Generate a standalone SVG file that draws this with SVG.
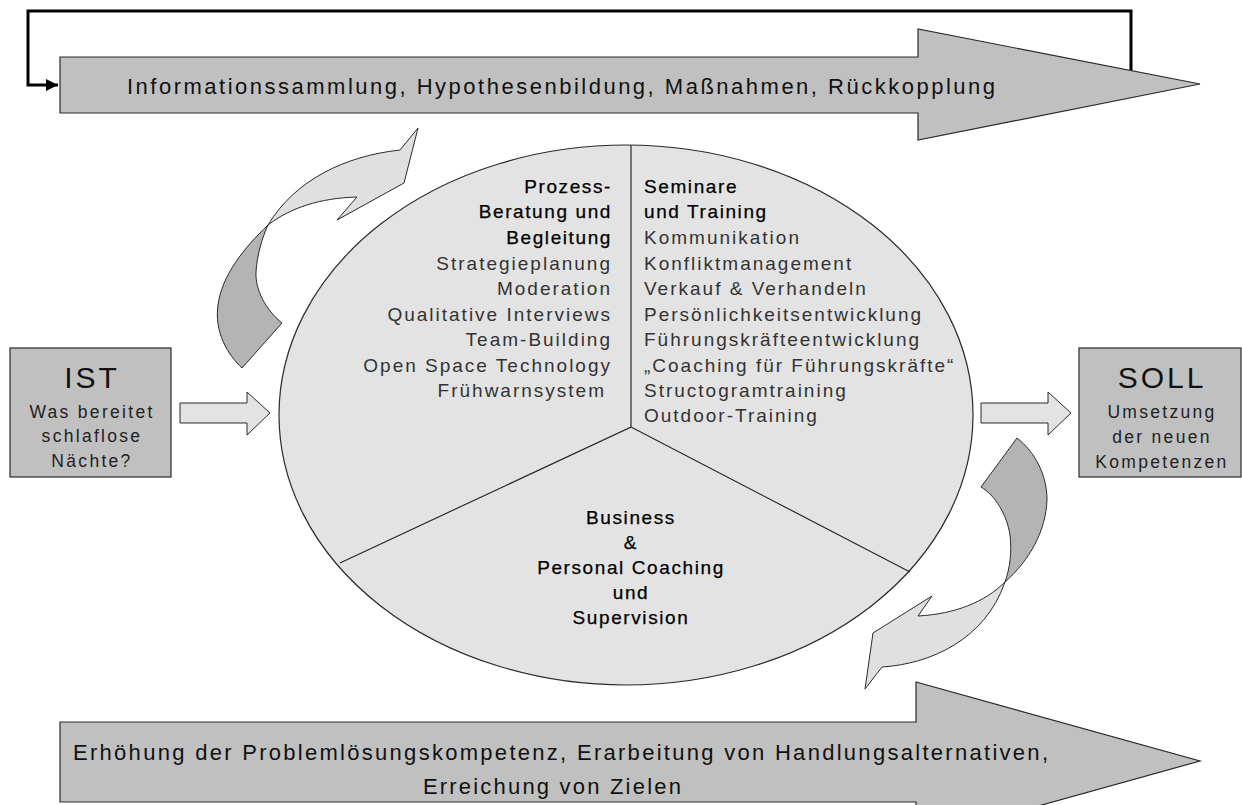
<svg xmlns="http://www.w3.org/2000/svg" width="1242" height="805" viewBox="0 0 1242 805">
<style>
.bg{fill:#ffffff}
.band{fill:#c0c0c0;stroke:#2a2a2a;stroke-width:1.2}
.box{fill:#c0c0c0;stroke:#2a2a2a;stroke-width:1.2}
.circ{fill:#e3e3e3;stroke:#2a2a2a;stroke-width:1.2}
.div{fill:none;stroke:#2a2a2a;stroke-width:1.2}
.small{fill:#e3e3e3;stroke:#2a2a2a;stroke-width:1}
.lt{fill:#e0e0e0;stroke:#2a2a2a;stroke-width:1}
.dk{fill:#b4b4b4;stroke:#2a2a2a;stroke-width:1}
.fb{fill:none;stroke:#000;stroke-width:3}
text{font-family:"Liberation Sans",Arial,sans-serif}
.bt{font-size:22px;fill:#111}
.reg{font-size:19px;fill:#333;letter-spacing:2px}
.ttl{font-size:19px;fill:#000;letter-spacing:1.6px;stroke:#000;stroke-width:0.25}
.big{font-size:30px;fill:#111;letter-spacing:3px}
.sub{font-size:17.5px;fill:#222;letter-spacing:2.3px}
</style>
<defs>
<marker id="ah" viewBox="0 0 10 10" refX="10" refY="5" markerWidth="6" markerHeight="4" orient="auto" markerUnits="strokeWidth">
<path d="M0,0 L10,5 L0,10 Z" fill="#000"/>
</marker>
</defs>
<rect class="bg" x="0" y="0" width="1242" height="805"/>

<g id="connectors">
<path class="fb" d="M1131,72 V11 H28 V85 H58" marker-end="url(#ah)"/>
<path class="small" d="M180,403 H247 V392 L270,413 L247,435 V423 H180 Z"/>
<path class="small" d="M981,403 H1048 V392 L1071,413 L1048,435 V423 H981 Z"/>
<g id="curved-arrow-top">
<path class="dk" d="M268,225 C244,248 222,275 218,305 C214,332 228,355 242,368 L282,323 C266,310 255,290 256,272 C257,255 262,238 268,225 Z"/>
<path class="lt" d="M268,225 C295,180 345,156 400,150 L418,128 L404,183 L337,220 L357,197 C320,198 290,208 268,225 Z"/>
</g>
<g id="curved-arrow-bottom">
<path class="dk" d="M1005,582 C1030,560 1046,530 1047,500 C1047,475 1035,452 1017,438 L981,487 C995,495 1007,515 1010,535 C1012,552 1010,568 1005,582 Z"/>
<path class="lt" d="M1005,582 C985,602 955,614 918,616 L932,596 L873,633 L865,689 L882,667 C930,664 985,640 1005,582 Z"/>
</g>
</g>

<g id="top-banner">
<path class="band" d="M60,57 H918 V29 L1200,84 L918,140 V113 H60 Z"/>
<text class="bt" x="127" y="94" textLength="868" lengthAdjust="spacing">Informationssammlung, Hypothesenbildung, Maßnahmen, Rückkopplung</text>
</g>

<g id="bottom-banner">
<path class="band" d="M60,722 H916 V682 L1200,761 L916,840 V802 H60 Z"/>
<text class="bt" x="73" y="760" textLength="975" lengthAdjust="spacing">Erhöhung der Problemlösungskompetenz, Erarbeitung von Handlungsalternativen,</text>
<text class="bt" x="553" y="794" text-anchor="middle" letter-spacing="2.2">Erreichung von Zielen</text>
</g>

<g id="ist">
<rect class="box" x="10" y="348" width="161" height="129"/>
<text class="big" x="92" y="388" text-anchor="middle" font-size="29">IST</text>
<text class="sub" x="92" y="418" text-anchor="middle">Was bereitet</text>
<text class="sub" x="92" y="442" text-anchor="middle">schlaflose</text>
<text class="sub" x="92" y="467" text-anchor="middle">Nächte?</text>
</g>

<g id="soll">
<rect class="box" x="1079" y="348" width="162" height="129"/>
<text class="big" x="1162" y="388" text-anchor="middle">SOLL</text>
<text class="sub" x="1162" y="418" text-anchor="middle">Umsetzung</text>
<text class="sub" x="1162" y="443" text-anchor="middle">der neuen</text>
<text class="sub" x="1162" y="468" text-anchor="middle">Kompetenzen</text>
</g>

<g id="circle">
<ellipse class="circ" cx="626" cy="415" rx="347" ry="270"/>
<path class="div" d="M631,145 V427 L340,563 M631,427 L910,572"/>
</g>

<g id="prozess">
<text class="ttl" x="612" y="193" text-anchor="end">Prozess-</text>
<text class="ttl" x="612" y="218" text-anchor="end">Beratung und</text>
<text class="ttl" x="612" y="244" text-anchor="end">Begleitung</text>
<text class="reg" x="612" y="270" text-anchor="end">Strategieplanung</text>
<text class="reg" x="612" y="295" text-anchor="end">Moderation</text>
<text class="reg" x="612" y="321" text-anchor="end">Qualitative Interviews</text>
<text class="reg" x="612" y="346" text-anchor="end">Team-Building</text>
<text class="reg" x="612" y="372" text-anchor="end">Open Space Technology</text>
<text class="reg" x="606" y="397" text-anchor="end">Frühwarnsystem</text>
</g>

<g id="seminare">
<text class="ttl" x="644" y="193">Seminare</text>
<text class="ttl" x="644" y="218">und Training</text>
<text class="reg" x="644" y="244">Kommunikation</text>
<text class="reg" x="644" y="270">Konfliktmanagement</text>
<text class="reg" x="644" y="295">Verkauf &amp; Verhandeln</text>
<text class="reg" x="644" y="321">Persönlichkeitsentwicklung</text>
<text class="reg" x="644" y="346">Führungskräfteentwicklung</text>
<text class="reg" x="644" y="372" letter-spacing="1.5">„Coaching für Führungskräfte“</text>
<text class="reg" x="644" y="397">Structogramtraining</text>
<text class="reg" x="644" y="422">Outdoor-Training</text>
</g>

<g id="coaching">
<text class="ttl" x="631" y="524" text-anchor="middle">Business</text>
<text class="ttl" x="631" y="549" text-anchor="middle">&amp;</text>
<text class="ttl" x="631" y="574" text-anchor="middle">Personal Coaching</text>
<text class="ttl" x="631" y="599" text-anchor="middle">und</text>
<text class="ttl" x="631" y="624" text-anchor="middle">Supervision</text>
</g>
</svg>
